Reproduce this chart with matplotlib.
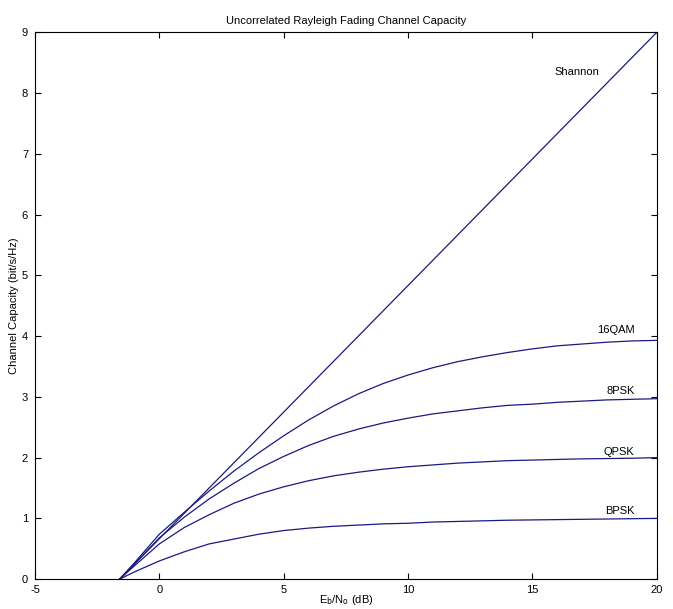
import numpy as np
import matplotlib.pyplot as plt

# Eb/N0 (dB) sample points
ebno = [-1.6, -1.0, 0, 1, 2, 3, 4, 5, 6, 7, 8, 9, 10, 11, 12, 13, 14, 15, 16, 17, 18, 19, 20]

shannon_x = [-1.6, 20]
shannon_y = [0.0, 9.0]

bpsk = [0.0, 0.12, 0.30, 0.45, 0.58, 0.66, 0.74, 0.80, 0.84, 0.87, 0.89, 0.91, 0.92, 0.94, 0.95, 0.96, 0.97, 0.975, 0.98, 0.985, 0.99, 0.995, 1.0]
qpsk = [0.0, 0.22, 0.58, 0.85, 1.06, 1.25, 1.40, 1.52, 1.62, 1.70, 1.76, 1.81, 1.85, 1.88, 1.91, 1.93, 1.95, 1.96, 1.97, 1.98, 1.985, 1.99, 2.0]
psk8 = [0.0, 0.25, 0.68, 1.02, 1.32, 1.58, 1.82, 2.02, 2.20, 2.35, 2.47, 2.57, 2.65, 2.72, 2.77, 2.82, 2.86, 2.88, 2.91, 2.93, 2.95, 2.96, 2.97]
qam16 = [0.0, 0.27, 0.74, 1.10, 1.45, 1.78, 2.08, 2.36, 2.62, 2.85, 3.05, 3.22, 3.36, 3.48, 3.58, 3.66, 3.73, 3.79, 3.84, 3.87, 3.90, 3.92, 3.93]

labels = ["Shannon", "16QAM", "8PSK", "QPSK", "BPSK"]
label_y = [8.35, 4.1, 3.1, 2.1, 1.12]
label_x = [17.7, 19.1, 19.1, 19.1, 19.1]

plt.rcParams["font.family"] = ["Liberation Sans", "DejaVu Sans"]
plt.rcParams["axes.unicode_minus"] = False
line_color = "#1a1a80"

fig = plt.figure(figsize=(6.73, 6.09), dpi=100)
ax = fig.add_axes([0.052, 0.049, 0.924, 0.898])

ax.plot(shannon_x, shannon_y, color=line_color, lw=0.9)
for series in (bpsk, qpsk, psk8, qam16):
    ax.plot(ebno, series, color=line_color, lw=0.9)

for name, lx, ly in zip(labels, label_x, label_y):
    ax.text(lx, ly, name, fontsize=8, ha="right", va="center", color="black")

ax.set_xlim(-5, 20)
ax.set_ylim(0, 9)
ax.set_xticks([-5, 0, 5, 10, 15, 20])
ax.set_yticks(range(0, 10))
ax.tick_params(direction="in", top=True, right=True, labelsize=8, length=4, width=0.8)
ax.tick_params(axis="x", pad=4)
ax.tick_params(axis="y", pad=5)
for s in ax.spines.values():
    s.set_linewidth(0.8)

ax.set_title("Uncorrelated Rayleigh Fading Channel Capacity", fontsize=8, pad=6)
ax.set_xlabel(r"E$_\mathrm{b}$/N$_\mathrm{o}$ (dB)", fontsize=8, labelpad=-1)
ax.set_ylabel("Channel Capacity (bit/s/Hz)", fontsize=8, labelpad=2)

fig.savefig("out.png", dpi=100, facecolor="white")
